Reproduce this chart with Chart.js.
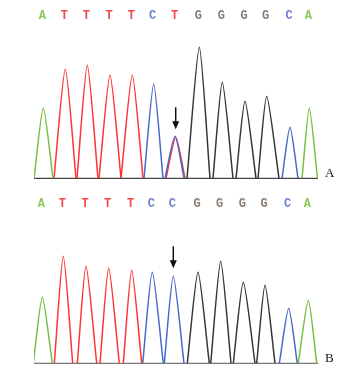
<!DOCTYPE html>
<html><head><meta charset="utf-8">
<script src="https://cdn.jsdelivr.net/npm/chart.js@4"></script>
<style>
html,body{margin:0;padding:0;background:#fff;}
#wrap{position:relative;width:361px;height:380px;}
.c{position:absolute;left:0;width:361px;height:190px;}
</style></head>
<body><div id="wrap">
<div class="c" style="top:0"><canvas id="cA"></canvas></div>
<div class="c" style="top:190px"><canvas id="cB"></canvas></div>
</div>
<script>
// Panel A (heterozygous / mixed peak at position 7)
const basesA = ["A","T","T","T","T","C","T","G","G","G","G","C","A"];
const posA    = [43.3, 65.3, 87.3, 110, 132.3, 153.7, 175.7, 199.3, 222.3, 245, 266.7, 290, 309.3];
const heightA = [70, 109, 113, 103, 103, 94, 41, 131, 96, 77, 82, 51, 70];
const startA  = [34, 54, 77, 99, 121, 144, 166, 187, 213, 236, 258, 282, 302];
const endA    = [53, 76, 98, 121, 143, 163, 185, 210, 233, 256, 279, 298, 317.5];
// secondary (overlapping) C peak under the T call
const mixPosA = 175;
const mixHeightA = 42;
const mixBaseA = "C";
const arrowA = 6;

// Panel B (homozygous)
const basesB = ["A","T","T","T","T","C","C","G","G","G","G","C","A"];
const posB    = [42.3, 63.3, 86, 108.7, 131.7, 152.3, 173.3, 198, 220.7, 243.3, 265, 288.7, 308.3];
const heightB = [66, 107, 97, 95, 93, 91, 87, 91, 102, 81, 78, 55, 63];
const startB  = [33.3, 54.3, 77.3, 100, 123.3, 142.7, 164.3, 187.3, 210.7, 233.3, 256.7, 279.3, 298.3];
const endB    = [52.3, 72.7, 96.7, 119.3, 141.7, 163.3, 184, 209.3, 231, 255, 275, 297.3, 316.7];
const arrowB = 6;

const traceColor = {A:"#74c040", T:"#ff3434", C:"#4a68c8", G:"#363636"};
const letterColor = {A:"#86c95a", T:"#f04a4a", C:"#6a80d0", G:"#8a7c72"};

function buildDatasets(bases, pos, h, st, en, extra){
  const ds = [];
  bases.forEach((b,i)=>{
    ds.push({base:b, data:[{x:st[i],y:0},{x:pos[i],y:h[i]},{x:en[i],y:0}],
      borderColor:traceColor[b], borderWidth:1.5, pointRadius:0, tension:0.22, fill:false});
  });
  if(extra){
    const i = extra.idx;
    ds.unshift({base:extra.base, data:[{x:st[i]-1,y:0},{x:extra.pos,y:extra.h},{x:en[i]-1,y:0}],
      borderColor:traceColor[extra.base], borderWidth:1.5, pointRadius:0, tension:0.22, fill:false});
  }
  return ds;
}

function makePlugin(bases, pos, h, arrowIdx, label, letterY, baseColor){
  return {
    id:'decor'+label,
    beforeDatasetsDraw(chart){
      const {ctx, chartArea:a, scales:{x,y}} = chart;
      ctx.save();
      ctx.strokeStyle = baseColor; ctx.lineWidth = 1.2;
      ctx.beginPath(); ctx.moveTo(a.left, y.getPixelForValue(0)); ctx.lineTo(a.right, y.getPixelForValue(0)); ctx.stroke();
      ctx.restore();
    },
    afterDraw(chart){
      const {ctx, scales:{x,y}, chartArea:a} = chart;
      ctx.save();
      ctx.font = "bold 12px 'Liberation Mono', 'DejaVu Sans Mono', monospace";
      ctx.textAlign = "center"; ctx.textBaseline = "middle";
      bases.forEach((b,i)=>{
        ctx.fillStyle = letterColor[b];
        ctx.fillText(b, x.getPixelForValue(pos[i]) - 1, letterY);
      });
      const ax = x.getPixelForValue(pos[arrowIdx]);
      const tip = y.getPixelForValue(h[arrowIdx]) - 8;
      ctx.strokeStyle = "#111"; ctx.fillStyle = "#111"; ctx.lineWidth = 1.5;
      ctx.beginPath(); ctx.moveTo(ax, tip - 22); ctx.lineTo(ax, tip - 6); ctx.stroke();
      ctx.beginPath(); ctx.moveTo(ax - 3.5, tip - 8); ctx.lineTo(ax + 3.5, tip - 8); ctx.lineTo(ax, tip); ctx.closePath(); ctx.fill();
      ctx.font = "13px 'Liberation Serif', serif";
      ctx.fillStyle = "#111"; ctx.textAlign = "left"; ctx.textBaseline = "alphabetic";
      ctx.fillText(label, a.right + 7, y.getPixelForValue(0) - 1);
      ctx.restore();
    }
  };
}

function makeChart(id, datasets, padTop, padBottom, plugin){
  return new Chart(document.getElementById(id), {
    type:'line',
    data:{datasets},
    options:{
      responsive:false, animation:false, maintainAspectRatio:false,
      layout:{padding:{left:34, right:43, top:padTop, bottom:padBottom}},
      plugins:{legend:{display:false}, tooltip:{enabled:false}},
      scales:{
        x:{type:'linear', min:34, max:318, display:false},
        y:{min:0, max:140, display:false}
      }
    },
    plugins:[plugin]
  });
}

document.getElementById('cA').width = 361; document.getElementById('cA').height = 190;
document.getElementById('cB').width = 361; document.getElementById('cB').height = 190;

makeChart('cA',
  buildDatasets(basesA, posA, heightA, startA, endA, {idx:arrowA, base:mixBaseA, pos:mixPosA, h:mixHeightA}),
  38.3, 11.7, makePlugin(basesA, posA, heightA, arrowA, "A", 16, "#444"));
makeChart('cB',
  buildDatasets(basesB, posB, heightB, startB, endB, null),
  33.3, 16.7, makePlugin(basesB, posB, heightB, arrowB, "B", 13.5, "#777"));
</script>
</body></html>
